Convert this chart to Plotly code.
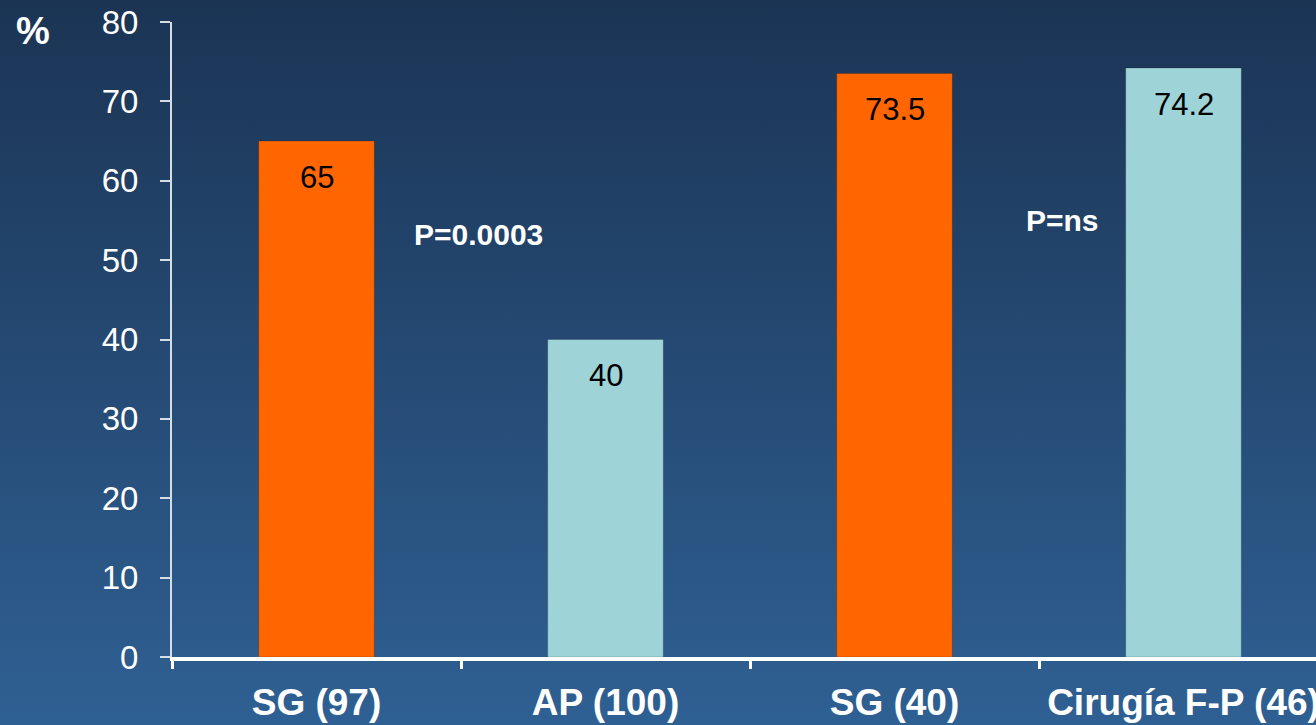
import base64
import plotly.graph_objects as go

categories = ["SG (97)", "AP (100)", "SG (40)", "Cirugía F-P (46)"]
values = [65, 40, 73.5, 74.2]
bar_colors = ["#FF6600", "#9ED3D8", "#FF6600", "#9ED3D8"]
value_labels = ["65", "40", "73.5", "74.2"]
y_ticks = [0, 10, 20, 30, 40, 50, 60, 70, 80]
p_texts = ["P=0.0003", "P=ns"]
p_x = [0.56, 2.58]
p_y = [53.2, 55.0]

W, H = 1316, 725
L, R, T, B = 172, 0, 22, 68

svg = (
    f'<svg xmlns="http://www.w3.org/2000/svg" width="{W}" height="{H}">'
    '<defs><linearGradient id="g" x1="0" y1="0" x2="0" y2="1">'
    '<stop offset="0" stop-color="#1b3454"/>'
    '<stop offset="1" stop-color="#2f6093"/>'
    '</linearGradient></defs>'
    f'<rect width="{W}" height="{H}" fill="url(#g)"/></svg>'
)
src = "data:image/svg+xml;base64," + base64.b64encode(svg.encode()).decode()

pw = W - L - R
ph = H - T - B

fig = go.Figure()
fig.add_trace(go.Bar(
    x=categories, y=values, width=0.4,
    marker=dict(color=bar_colors, line=dict(color="rgba(0,0,0,0.18)", width=1)),
    hoverinfo="skip",
))

font = "Liberation Sans, Arial, sans-serif"

for c, v, t in zip(categories, values, value_labels):
    fig.add_annotation(x=c, y=v, text=t, showarrow=False, yanchor="middle",
                       yshift=-36, font=dict(family=font, size=31, color="black"))

for t, x, y in zip(p_texts, p_x, p_y):
    fig.add_annotation(x=x, y=y, text=f"<b>{t}</b>", showarrow=False,
                       font=dict(family=font, size=30, color="white"))

fig.add_annotation(xref="paper", yref="paper", x=(33 - L) / pw, y=1 + (T - 31) / ph,
                   text="<b>%</b>", showarrow=False, xanchor="center", yanchor="middle",
                   font=dict(family=font, size=38, color="white"))

fig.update_layout(
    width=W, height=H,
    margin=dict(l=L, r=R, t=T, b=B, pad=0, autoexpand=False),
    paper_bgcolor="#26496f",
    plot_bgcolor="rgba(0,0,0,0)",
    showlegend=False,
    images=[dict(source=src, xref="paper", yref="paper",
                 x=-L / pw, y=1 + T / ph, sizex=W / pw, sizey=H / ph,
                 xanchor="left", yanchor="top", sizing="stretch", layer="below")],
    xaxis=dict(
        type="category", range=[-0.5, -0.5 + pw / 289.0], automargin=False,
        showline=True, linecolor="white", linewidth=4,
        ticks="outside", tickson="boundaries", ticklen=8, tickwidth=3, tickcolor="white",
        tickfont=dict(family=font, size=37, color="white", weight="bold"),
        ticklabelstandoff=10,
        showgrid=False, zeroline=False, fixedrange=True,
    ),
    yaxis=dict(
        range=[0, 80], tickvals=y_ticks, automargin=False,
        showline=True, linecolor="#d5dde6", linewidth=2,
        ticks="outside", ticklen=10, tickwidth=2, tickcolor="#d5dde6",
        tickfont=dict(family=font, size=33, color="white"),
        ticklabelstandoff=15,
        showgrid=False, zeroline=False, fixedrange=True,
    ),
)

fig.write_html("out.html", config={"displayModeBar": False})
